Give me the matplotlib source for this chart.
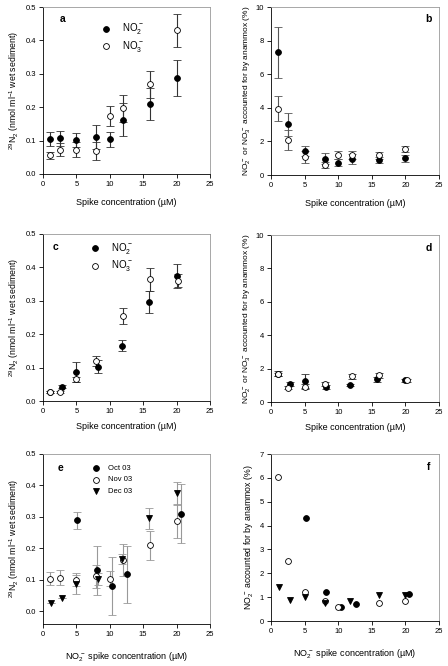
import matplotlib
matplotlib.use('Agg')
import matplotlib.pyplot as plt

plt.rcParams['font.family'] = ['Liberation Sans', 'DejaVu Sans']
plt.rcParams['font.size'] = 6
plt.rcParams['mathtext.fontset'] = 'custom'
plt.rcParams['mathtext.rm'] = 'Liberation Sans'
plt.rcParams['mathtext.it'] = 'Liberation Sans'

# panel a: 29N2 production, Oct
a_x = [1, 2.5, 5, 8, 10, 12, 16, 20]
a_no2 = [0.104, 0.107, 0.101, 0.111, 0.104, 0.163, 0.210, 0.288]
a_no2_err = [0.021, 0.023, 0.021, 0.036, 0.023, 0.050, 0.047, 0.054]
a_no3 = [0.056, 0.073, 0.073, 0.069, 0.173, 0.197, 0.268, 0.430]
a_no3_err = [0.010, 0.020, 0.023, 0.026, 0.030, 0.040, 0.040, 0.049]

# panel b: % accounted for by anammox
b_no2 = [7.3, 3.03, 1.43, 0.97, 0.73, 0.95, 0.90, 1.00]
b_no2_err = [1.5, 0.68, 0.32, 0.32, 0.22, 0.28, 0.20, 0.20]
b_no3 = [3.95, 2.08, 1.05, 0.60, 1.20, 1.18, 1.18, 1.55]
b_no3_err = [0.73, 0.58, 0.35, 0.20, 0.25, 0.22, 0.20, 0.18]

# panel c
c_x_no2 = [1.1, 2.8, 5, 8.2, 11.8, 15.8, 20]
c_no2 = [0.028, 0.043, 0.086, 0.103, 0.166, 0.296, 0.375]
c_no2_err = [0.003, 0.005, 0.030, 0.020, 0.016, 0.033, 0.036]
c_x_no3 = [1, 2.5, 5, 8, 12, 16, 20.2]
c_no3 = [0.027, 0.028, 0.065, 0.120, 0.254, 0.364, 0.360]
c_no3_err = [0.003, 0.003, 0.008, 0.015, 0.024, 0.034, 0.020]

# panel d
d_no2 = [1.70, 1.05, 1.25, 0.90, 1.00, 1.35, 1.30]
d_no2_err = [0.15, 0.12, 0.40, 0.12, 0.05, 0.15, 0.10]
d_no3 = [1.65, 0.85, 0.90, 1.05, 1.55, 1.60, 1.30]
d_no3_err = [0.10, 0.10, 0.15, 0.12, 0.15, 0.15, 0.10]

# panel e: NO2- spike, three months
e_x_oct = [5.1, 8.1, 10.4, 12.6, 20.6]
e_oct = [0.290, 0.130, 0.080, 0.118, 0.311]
e_oct_err = [0.027, 0.078, 0.092, 0.090, 0.095]
e_x_nov = a_x
e_nov = a_no2
e_nov_err = a_no2_err
e_x_dec = [1.2, 2.8, 5, 8.2, 11.8, 15.8, 20]
e_dec = [0.028, 0.042, 0.086, 0.103, 0.166, 0.296, 0.375]
e_dec_err = [0.0, 0.0, 0.030, 0.020, 0.016, 0.033, 0.036]

# panel f
f_x_oct = [5.2, 8.2, 10.4, 12.6, 20.6]
f_oct = [4.30, 1.23, 0.58, 0.70, 1.15]
f_x_nov = [1, 2.5, 5, 8, 10, 16, 20]
f_nov = [6.05, 2.52, 1.20, 0.82, 0.60, 0.77, 0.85]
f_x_dec = [1.2, 2.8, 5, 8, 11.8, 16, 20]
f_dec = [1.42, 0.88, 1.00, 0.75, 0.82, 1.08, 1.08]

W, H = 448, 666
fig = plt.figure(figsize=(W / 100, H / 100), dpi=100)


def make_ax(l, t, r, b):
    ax = fig.add_axes([l / W, 1 - b / H, (r - l) / W, (b - t) / H])
    for s in ['top', 'right']:
        ax.spines[s].set_color('#999999')
    for s in ax.spines.values():
        s.set_linewidth(0.6)
    ax.tick_params(direction='out', length=3, width=0.6, labelsize=5.5,
                   top=False, right=False, pad=2)
    ax.set_xlim(0, 25)
    ax.set_xticks([0, 5, 10, 15, 20, 25])
    return ax


def eb(ax, x, y, err, filled, ecolor='#333333', marker='o'):
    ax.errorbar(x, y, yerr=err, fmt=marker, ms=4.2,
                mfc='black' if filled else 'white', mec='black', mew=0.6,
                ecolor=ecolor, elinewidth=0.8, capsize=3.2, capthick=0.8,
                zorder=3)


lab_n = r'$^{29}$N$_2$ (nmol ml$^{-1}$ wet sediment)'
lab_p = r'NO$_2^{\,-}$ or NO$_3^{\,-}$ accounted for by anammox (%)'
lab_x = 'Spike concentration (\u00b5M)'
lab_x2 = r'NO$_2^{\,-}$ spike concentration (' + '\u00b5M)'

# a
ax = make_ax(43, 7, 210, 174)
eb(ax, a_x, a_no2, a_no2_err, True)
eb(ax, a_x, a_no3, a_no3_err, False)
ax.set_ylim(0, 0.5)
ax.set_yticks([0, 0.1, 0.2, 0.3, 0.4, 0.5])
ax.set_ylabel(lab_n, fontsize=6.3, labelpad=3)
ax.set_xlabel(lab_x, fontsize=6.5, labelpad=7)
ax.text(0.1, 0.93, 'a', transform=ax.transAxes, fontsize=7.5, fontweight='bold', va='center')
ax.plot([9.5], [0.435], 'o', ms=4.2, mfc='black', mec='black', mew=0.6)
ax.plot([9.5], [0.382], 'o', ms=4.2, mfc='white', mec='black', mew=0.6)
ax.text(11.8, 0.435, r'NO$_2^{\,-}$', fontsize=7, va='center')
ax.text(11.8, 0.382, r'NO$_3^{\,-}$', fontsize=7, va='center')

# b
ax = make_ax(271, 7, 439, 175)
eb(ax, a_x, b_no2, b_no2_err, True, ecolor='#555555')
eb(ax, a_x, b_no3, b_no3_err, False, ecolor='#555555')
ax.set_ylim(0, 10)
ax.set_yticks([0, 2, 4, 6, 8, 10])
ax.set_ylabel(lab_p, fontsize=6, labelpad=3)
ax.set_xlabel(lab_x, fontsize=6.5, labelpad=7)
ax.text(0.92, 0.93, 'b', transform=ax.transAxes, fontsize=7.5, fontweight='bold', va='center')

# c
ax = make_ax(43, 234, 210, 401)
eb(ax, c_x_no2, c_no2, c_no2_err, True)
eb(ax, c_x_no3, c_no3, c_no3_err, False)
ax.set_ylim(0, 0.5)
ax.set_yticks([0, 0.1, 0.2, 0.3, 0.4, 0.5])
ax.set_ylabel(lab_n, fontsize=6.3, labelpad=3)
ax.set_xlabel(lab_x, fontsize=6.5, labelpad=5)
ax.text(0.06, 0.92, 'c', transform=ax.transAxes, fontsize=7.5, fontweight='bold', va='center')
ax.plot([7.8], [0.457], 'o', ms=4.2, mfc='black', mec='black', mew=0.6)
ax.plot([7.8], [0.405], 'o', ms=4.2, mfc='white', mec='black', mew=0.6)
ax.text(10.2, 0.457, r'NO$_2^{\,-}$', fontsize=7, va='center')
ax.text(10.2, 0.405, r'NO$_3^{\,-}$', fontsize=7, va='center')

# d
ax = make_ax(271, 235, 439, 402)
eb(ax, c_x_no2, d_no2, d_no2_err, True)
eb(ax, c_x_no3, d_no3, d_no3_err, False)
ax.set_ylim(0, 10)
ax.set_yticks([0, 2, 4, 6, 8, 10])
ax.set_ylabel(lab_p, fontsize=6, labelpad=3)
ax.set_xlabel(lab_x, fontsize=6.5, labelpad=5)
ax.text(0.92, 0.92, 'd', transform=ax.transAxes, fontsize=7.5, fontweight='bold', va='center')

# e
ax = make_ax(43, 454, 210, 624)
eb(ax, e_x_oct, e_oct, e_oct_err, True, ecolor='#999999')
eb(ax, e_x_nov, e_nov, e_nov_err, False, ecolor='#999999')
eb(ax, e_x_dec, e_dec, e_dec_err, True, ecolor='#999999', marker='v')
ax.set_ylim(-0.04, 0.5)
ax.set_yticks([0, 0.1, 0.2, 0.3, 0.4, 0.5])
ax.set_ylabel(lab_n, fontsize=6.3, labelpad=3)
ax.set_xlabel(lab_x2, fontsize=6.5, labelpad=9)
ax.text(0.09, 0.92, 'e', transform=ax.transAxes, fontsize=7.5, fontweight='bold', va='center')
ax.plot([7.9], [0.455], 'o', ms=4.2, mfc='black', mec='black', mew=0.6)
ax.plot([7.9], [0.418], 'o', ms=4.2, mfc='white', mec='black', mew=0.6)
ax.plot([7.9], [0.381], 'v', ms=4.2, mfc='black', mec='black', mew=0.6)
ax.text(9.7, 0.455, 'Oct 03', fontsize=5.5, va='center')
ax.text(9.7, 0.418, 'Nov 03', fontsize=5.5, va='center')
ax.text(9.7, 0.381, 'Dec 03', fontsize=5.5, va='center')

# f
ax = make_ax(271, 454, 439, 621)
ax.plot(f_x_oct, f_oct, 'o', ms=4.2, mfc='black', mec='black', mew=0.6, zorder=3)
ax.plot(f_x_nov, f_nov, 'o', ms=4.2, mfc='white', mec='black', mew=0.6, zorder=3)
ax.plot(f_x_dec, f_dec, 'v', ms=4.2, mfc='black', mec='black', mew=0.6, zorder=3)
ax.set_ylim(0, 7)
ax.set_yticks([0, 1, 2, 3, 4, 5, 6, 7])
ax.set_ylabel(r'NO$_2^{\,-}$ accounted for by anammox (%)', fontsize=6.3, labelpad=3)
ax.set_xlabel(lab_x2, fontsize=6.5, labelpad=9)
ax.text(0.93, 0.92, 'f', transform=ax.transAxes, fontsize=7.5, fontweight='bold', va='center')

fig.savefig('out.png', dpi=100)
